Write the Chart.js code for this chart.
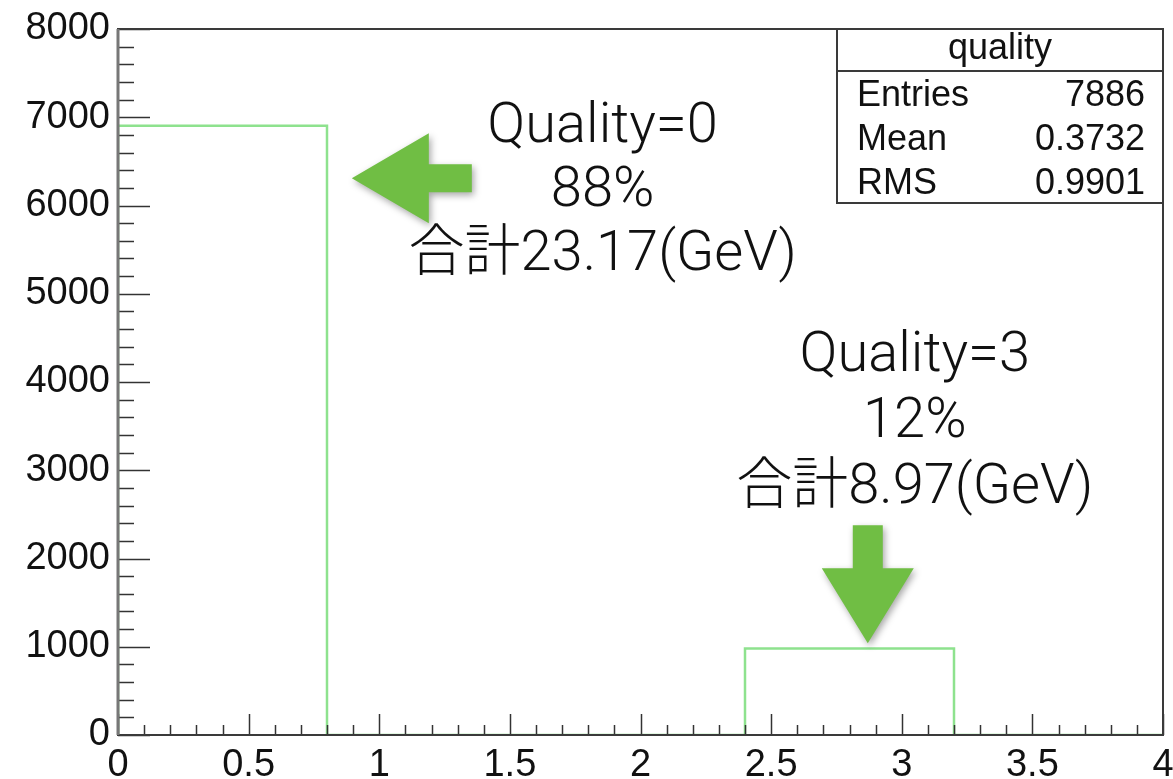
<!DOCTYPE html>
<html>
<head>
<meta charset="utf-8">
<title>quality</title>
<script src="https://cdn.jsdelivr.net/npm/chart.js@4.4.1/dist/chart.umd.min.js"></script>
<style>
  html, body { margin: 0; padding: 0; background: #fff; }
  canvas { display: block; }
</style>
</head>
<body>
<canvas id="qualityHist" width="1173" height="779"></canvas>
<script>
// histogram bins (5 bins of width 0.8 over 0..4)
const binEdges = [0, 0.8, 1.6, 2.4, 3.2, 4.0];
const binCounts = [6905, 0, 0, 981, 0];

// stats box
const statsTitle = 'quality';
const statsNames = ['Entries', 'Mean', 'RMS'];
const statsValues = ['7886', '0.3732', '0.9901'];

// notes next to the two filled bins
const noteQ0 = ['Quality=0', '88%', '合計23.17(GeV)'];
const noteQ3 = ['Quality=3', '12%', '合計8.97(GeV)'];

const labelFont = '"Liberation Sans", Helvetica, Arial, sans-serif';
const noteFont = 'Roboto, "Noto Sans CJK JP", sans-serif';
const histColor = '#8ee28e';
const arrowColor = '#70be44';

// step outline: start at (0,0), then each bin's low edge, then close at the last edge
const outline = [{ x: binEdges[0], y: 0 }];
binCounts.forEach((c, i) => outline.push({ x: binEdges[i], y: c }));
outline.push({ x: binEdges[binEdges.length - 1], y: 0 });

function drawLeftArrow(ctx, x, y) {
  ctx.beginPath();
  ctx.moveTo(x, y);
  ctx.lineTo(x + 77, y - 45);
  ctx.lineTo(x + 77, y - 14);
  ctx.lineTo(x + 120, y - 14);
  ctx.lineTo(x + 120, y + 14);
  ctx.lineTo(x + 77, y + 14);
  ctx.lineTo(x + 77, y + 45);
  ctx.closePath();
  ctx.fill();
}

function drawDownArrow(ctx, x, y) {
  ctx.beginPath();
  ctx.moveTo(x, y);
  ctx.lineTo(x - 46, y - 75);
  ctx.lineTo(x - 15, y - 75);
  ctx.lineTo(x - 15, y - 118);
  ctx.lineTo(x + 15, y - 118);
  ctx.lineTo(x + 15, y - 75);
  ctx.lineTo(x + 46, y - 75);
  ctx.closePath();
  ctx.fill();
}

function drawNote(ctx, lines, cx, cy, step) {
  ctx.save();
  ctx.fillStyle = '#111';
  ctx.font = '300 56px ' + noteFont;
  ctx.textAlign = 'center';
  ctx.textBaseline = 'middle';
  lines.forEach((t, i) => ctx.fillText(t, cx, cy + i * step));
  ctx.restore();
}

// ROOT-like frame, inside ticks, stats box and notes
const rootFrame = {
  id: 'rootFrame',
  afterDatasetsDraw(chart) {
    const ctx = chart.ctx;
    const a = chart.chartArea;
    const xs = chart.scales.x, ys = chart.scales.y;

    ctx.save();
    ctx.strokeStyle = '#333';
    ctx.lineWidth = 1.5;
    // y ticks (major 1000, minor 200)
    for (let v = 0; v <= 8000; v += 200) {
      const py = Math.round(ys.getPixelForValue(v)) + 0.5;
      const len = v % 1000 === 0 ? 32 : 16;
      ctx.beginPath();
      ctx.moveTo(a.left, py);
      ctx.lineTo(a.left + len, py);
      ctx.stroke();
    }
    // x ticks (major 0.5, minor 0.1)
    for (let k = 0; k <= 40; k++) {
      const px = Math.round(xs.getPixelForValue(k / 10)) + 0.5;
      const len = k % 5 === 0 ? 21 : 10;
      ctx.beginPath();
      ctx.moveTo(px, a.bottom);
      ctx.lineTo(px, a.bottom - len);
      ctx.stroke();
    }
    // frame
    ctx.strokeStyle = '#3a3a3a';
    ctx.lineWidth = 2;
    ctx.strokeRect(a.left, a.top, a.right - a.left, a.bottom - a.top);
    ctx.strokeStyle = '#777';
    ctx.lineWidth = 3;
    ctx.beginPath();
    ctx.moveTo(a.left, a.top);
    ctx.lineTo(a.left, a.bottom);
    ctx.stroke();

    // stats box
    const bx = a.right - 326, by = a.top, bw = 326, bh = 174;
    ctx.fillStyle = '#fff';
    ctx.fillRect(bx, by, bw, bh);
    ctx.strokeStyle = '#3a3a3a';
    ctx.lineWidth = 2;
    ctx.strokeRect(bx, by, bw, bh);
    ctx.beginPath();
    ctx.moveTo(bx, by + 42);
    ctx.lineTo(bx + bw, by + 42);
    ctx.stroke();
    ctx.fillStyle = '#111';
    ctx.font = '36px ' + labelFont;
    ctx.textBaseline = 'middle';
    ctx.textAlign = 'center';
    ctx.fillText(statsTitle, bx + bw / 2, by + 20);
    statsNames.forEach((n, i) => {
      const ry = by + 67 + i * 44;
      ctx.textAlign = 'left';
      ctx.fillText(n, bx + 20, ry);
      ctx.textAlign = 'right';
      ctx.fillText(statsValues[i], bx + bw - 18, ry);
    });
    ctx.restore();

    // arrows with a soft drop shadow
    ctx.save();
    ctx.fillStyle = arrowColor;
    ctx.shadowColor = 'rgba(0,0,0,0.35)';
    ctx.shadowBlur = 7;
    ctx.shadowOffsetX = 2;
    ctx.shadowOffsetY = 3;
    drawLeftArrow(ctx, xs.getPixelForValue(0.895), ys.getPixelForValue(6310));
    drawDownArrow(ctx, xs.getPixelForValue(2.87), ys.getPixelForValue(1040));
    ctx.restore();

    drawNote(ctx, noteQ0, xs.getPixelForValue(1.855), ys.getPixelForValue(6874), 64);
    drawNote(ctx, noteQ3, xs.getPixelForValue(3.05), ys.getPixelForValue(4281), 66);
  }
};

new Chart(document.getElementById('qualityHist'), {
  type: 'line',
  data: {
    datasets: [{
      label: 'quality',
      data: outline,
      // horizontal first, then vertical: gives the histogram step outline
      stepped: 'before',
      borderColor: histColor,
      borderWidth: 2.5,
      pointRadius: 0,
      fill: false
    }]
  },
  options: {
    responsive: false,
    animation: false,
    layout: { padding: { top: 29, right: 10, left: 0, bottom: 0 } },
    plugins: {
      legend: { display: false },
      tooltip: { enabled: false }
    },
    scales: {
      x: {
        type: 'linear',
        min: 0,
        max: 4,
        grid: { display: false, drawTicks: false },
        border: { display: false },
        ticks: {
          stepSize: 0.5,
          padding: 8,
          color: '#111',
          font: { family: labelFont, size: 38 },
          maxRotation: 0,
          callback: v => String(v)
        },
        // fixed height; let the last label run to the canvas edge
        afterFit: s => { s.height = 44; s.paddingLeft = 0; s.paddingRight = 0; }
      },
      y: {
        min: 0,
        max: 8000,
        grid: { display: false, drawTicks: false },
        border: { display: false },
        ticks: {
          stepSize: 1000,
          padding: 8,
          color: '#111',
          font: { family: labelFont, size: 38 },
          callback: v => String(v)
        },
        afterFit: s => { s.width = 118; s.paddingTop = 0; s.paddingBottom = 0; }
      }
    }
  },
  plugins: [rootFrame]
});
</script>
</body>
</html>
